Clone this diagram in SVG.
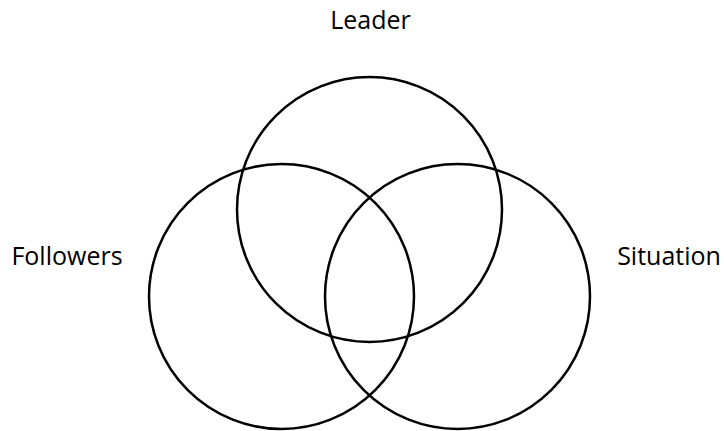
<svg xmlns="http://www.w3.org/2000/svg" width="724" height="431" viewBox="0 0 724 431">
<style>
.c{fill:none;stroke:#000;stroke-width:2.5}
.t{font-family:"Open Sans","Liberation Sans",sans-serif;font-size:25px;fill:#000}
</style>
<rect width="724" height="431" fill="#fff"/>
<g id="leader"><circle class="c" cx="369.5" cy="209.5" r="132.5"/><text class="t" x="370.5" y="29" text-anchor="middle">Leader</text></g>
<g id="followers"><circle class="c" cx="281.5" cy="296.5" r="132.5"/><text class="t" x="67" y="265" text-anchor="middle">Followers</text></g>
<g id="situation"><circle class="c" cx="457.5" cy="296.5" r="132.5"/><text class="t" x="669" y="265" text-anchor="middle">Situation</text></g>
<g id="connectors"/>
</svg>
